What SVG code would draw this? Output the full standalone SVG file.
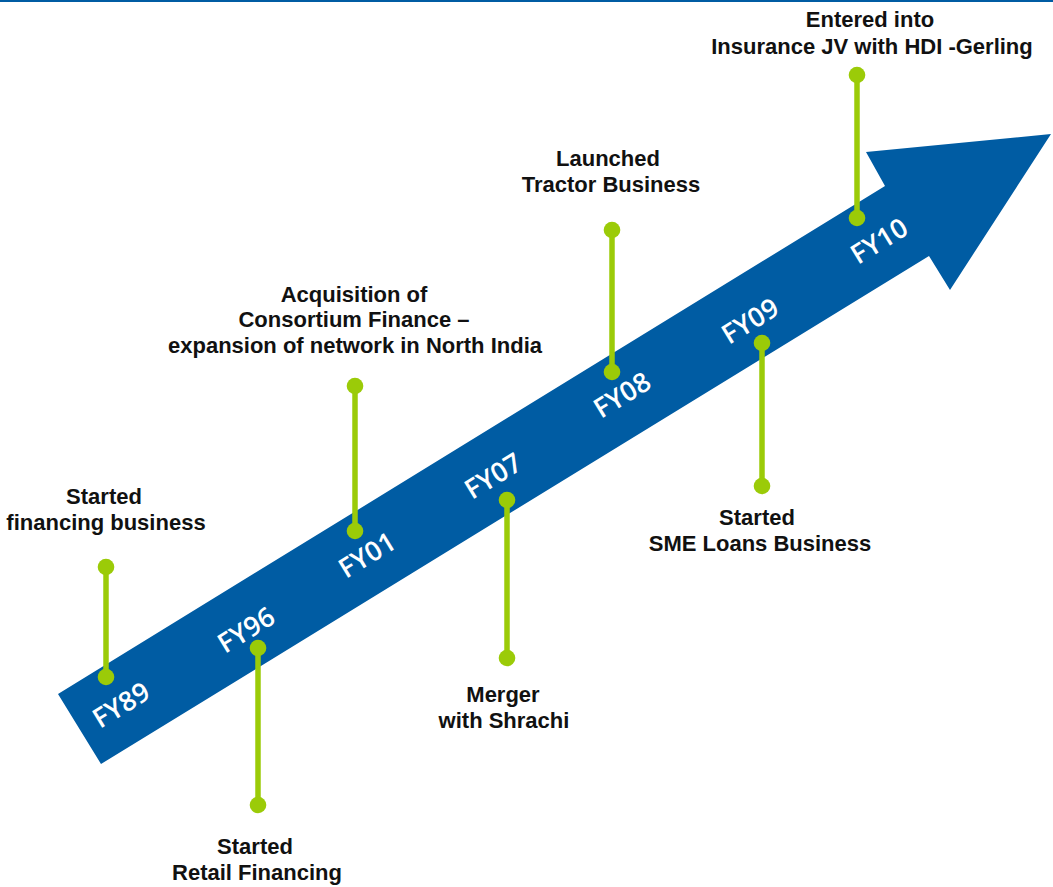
<svg xmlns="http://www.w3.org/2000/svg" width="1053" height="887" viewBox="0 0 1053 887">
  <style>
    .note { font-family: "Liberation Sans", Arial, sans-serif; font-weight: bold; font-size: 22px; fill: #111; text-anchor: middle; }
    .year { font-family: "Open Sans", "Noto Sans", sans-serif; font-weight: 600; font-size: 27px; fill: #fff; text-anchor: middle; }
    .stem { stroke: #9bcb08; stroke-width: 5.5; }
    .dot { fill: #9bcb08; }
  </style>

  <!-- top rule -->
  <rect x="0" y="0" width="1053" height="2" fill="#005ca3"/>

  <!-- timeline arrow -->
  <g id="arrow">
    <polygon points="58,694 885,186 866,152 1051,134 950,290 929,256 101,764" fill="#005ca3"/>
    <text class="year" transform="translate(126,713) rotate(-31.5)">FY89</text>
    <text class="year" transform="translate(251,638) rotate(-31.5)">FY96</text>
    <text class="year" transform="translate(372,563) rotate(-31.5)">FY01</text>
    <text class="year" transform="translate(498,484) rotate(-31.5)">FY07</text>
    <text class="year" transform="translate(627,403) rotate(-31.5)">FY08</text>
    <text class="year" transform="translate(755,329) rotate(-31.5)">FY09</text>
    <text class="year" transform="translate(884,249) rotate(-31.5)">FY10</text>
  </g>

  <!-- milestone stems -->
  <g id="connectors">
    <line class="stem" x1="106" y1="567" x2="106" y2="677"/>
    <line class="stem" x1="258" y1="648" x2="258" y2="805"/>
    <line class="stem" x1="355" y1="386" x2="355" y2="531"/>
    <line class="stem" x1="507" y1="500" x2="507" y2="658"/>
    <line class="stem" x1="612" y1="230" x2="612" y2="372"/>
    <line class="stem" x1="762" y1="343" x2="762" y2="486"/>
    <line class="stem" x1="857" y1="75" x2="857" y2="218"/>
  </g>

  <g id="fy89">
    <circle class="dot" cx="106" cy="567" r="8.3"/>
    <circle class="dot" cx="106" cy="677" r="8.3"/>
    <text class="note" x="104" y="504">Started</text>
    <text class="note" x="106" y="530">financing business</text>
  </g>

  <g id="fy96">
    <circle class="dot" cx="258" cy="648" r="8.3"/>
    <circle class="dot" cx="258" cy="805" r="8.3"/>
    <text class="note" x="255" y="854">Started</text>
    <text class="note" x="257" y="880">Retail Financing</text>
  </g>

  <g id="fy01">
    <circle class="dot" cx="355" cy="386" r="8.3"/>
    <circle class="dot" cx="355" cy="531" r="8.3"/>
    <text class="note" x="354" y="302">Acquisition of</text>
    <text class="note" x="354" y="327">Consortium Finance –</text>
    <text class="note" x="355" y="353">expansion of network in North India</text>
  </g>

  <g id="fy07">
    <circle class="dot" cx="507" cy="500" r="8.3"/>
    <circle class="dot" cx="507" cy="658" r="8.3"/>
    <text class="note" x="503" y="702">Merger</text>
    <text class="note" x="504" y="728">with Shrachi</text>
  </g>

  <g id="fy08">
    <circle class="dot" cx="612" cy="230" r="8.3"/>
    <circle class="dot" cx="612" cy="372" r="8.3"/>
    <text class="note" x="608" y="166">Launched</text>
    <text class="note" x="611" y="192">Tractor Business</text>
  </g>

  <g id="fy09">
    <circle class="dot" cx="762" cy="343" r="8.3"/>
    <circle class="dot" cx="762" cy="486" r="8.3"/>
    <text class="note" x="757" y="525">Started</text>
    <text class="note" x="760" y="551">SME Loans Business</text>
  </g>

  <g id="fy10">
    <circle class="dot" cx="857" cy="75" r="8.3"/>
    <circle class="dot" cx="857" cy="218" r="8.3"/>
    <text class="note" x="870" y="27">Entered into</text>
    <text class="note" x="872" y="54">Insurance JV with HDI -Gerling</text>
  </g>
</svg>
